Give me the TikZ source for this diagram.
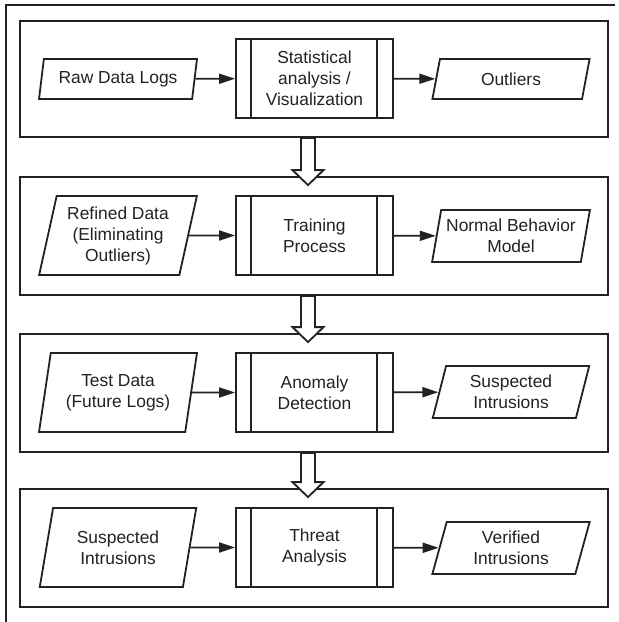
\documentclass[tikz,border=0pt]{standalone}
\usepackage{fontspec}
\setmainfont{Liberation Sans}
\usetikzlibrary{positioning,arrows.meta,calc,shapes.geometric}
\definecolor{ink}{HTML}{222222}
\tikzset{
    panel/.style = {
        draw=ink,
        shape=rectangle,
        minimum width=588pt,
        line width=1.8pt
    },
    data/.style = {
        draw=ink,
        shape=trapezium,
        trapezium left angle=76,
        trapezium right angle=104,
        trapezium stretches=true,
        minimum width=158pt,
        inner sep=0pt,
        align=center,
        line width=1.8pt
    },
    proc/.style = {
        draw=ink,
        shape=rectangle,
        minimum width=157pt,
        minimum height=79pt,
        align=center,
        line width=1.8pt,
        path picture={
            \draw[ink, line width=1.8pt]
            ([xshift=15pt]path picture bounding box.north west) --
            ([xshift=15pt]path picture bounding box.south west);
            \draw[ink, line width=1.8pt]
            ([xshift=-16pt]path picture bounding box.north east) --
            ([xshift=-16pt]path picture bounding box.south east);
        }
    },
    hollow/.style = {
        draw=ink,
        fill=white,
        line width=1.8pt
    },
    every node/.append style = {font=\fontsize{17.4}{21}\selectfont, text=ink},
    >={Triangle[length=16pt,width=10pt]},
}

% hollow block arrow from one stage box down into the next
\newcommand{\stagearrow}[2]{%
    \path[hollow] let \p1=(#1.south), \p2=(#2.north) in
    (\x1-13pt,\y1) -- (\x1-13pt,\y2+6pt) -- (\x1-21.5pt,\y2+6pt) --
    (\x1-6pt,\y2-9pt) -- (\x1+9.5pt,\y2+6pt) -- (\x1+1pt,\y2+6pt) --
    (\x1+1pt,\y1) -- cycle;}

\begin{document}
\begin{tikzpicture}[x=1pt, y=-1pt]
    \useasboundingbox (0,0) rectangle (619,622);
    \path[draw=ink, line width=1.2pt] (6,622) -- (6,5) -- (615,5);

    \node[panel, minimum height=116pt] (stage1) at (314,79) {};
    \node[panel, minimum height=118pt] (stage2) at (314,236) {};
    \node[panel, minimum height=118pt] (stage3) at (314,393) {};
    \node[panel, minimum height=118pt] (stage4) at (314,548) {};

    \node[data, minimum height=40pt] (raw) at (118,79) {Raw Data Logs};
    \node[proc] (stat) at (314.5,78.5) {Statistical\\analysis /\\Visualization};
    \node[data, minimum height=40pt] (outl) at (511,79) {Outliers};

    \node[data, minimum height=79pt] (refined) at (118,235.5) {Refined Data\\(Eliminating\\Outliers)};
    \node[proc] (train) at (314.5,235.5) {Training\\Process};
    \node[data, minimum height=52pt] (model) at (511,236) {Normal Behavior\\Model};

    \node[data, minimum height=79pt] (test) at (118,392.5) {Test Data\\(Future Logs)};
    \node[proc] (anom) at (314.5,392.5) {Anomaly\\Detection};
    \node[data, minimum height=52pt] (susp) at (511,392) {Suspected\\Intrusions};

    \node[data, minimum height=79pt] (suspin) at (118,547.5) {Suspected\\Intrusions};
    \node[proc] (threat) at (314.5,547.5) {Threat\\Analysis};
    \node[data, minimum height=52pt] (verif) at (511,548) {Verified\\Intrusions};

    \path[draw=ink, line width=1.8pt, ->] (raw) -- (stat);
    \path[draw=ink, line width=1.8pt, ->] (stat) -- (outl);
    \path[draw=ink, line width=1.8pt, ->] (refined) -- (train);
    \path[draw=ink, line width=1.8pt, ->] (train) -- (model);
    \path[draw=ink, line width=1.8pt, ->] (test) -- (anom);
    \path[draw=ink, line width=1.8pt, ->] (anom) -- (susp);
    \path[draw=ink, line width=1.8pt, ->] (suspin) -- (threat);
    \path[draw=ink, line width=1.8pt, ->] (threat) -- (verif);

    \stagearrow{stage1}{stage2}
    \stagearrow{stage2}{stage3}
    \stagearrow{stage3}{stage4}
\end{tikzpicture}
\end{document}
